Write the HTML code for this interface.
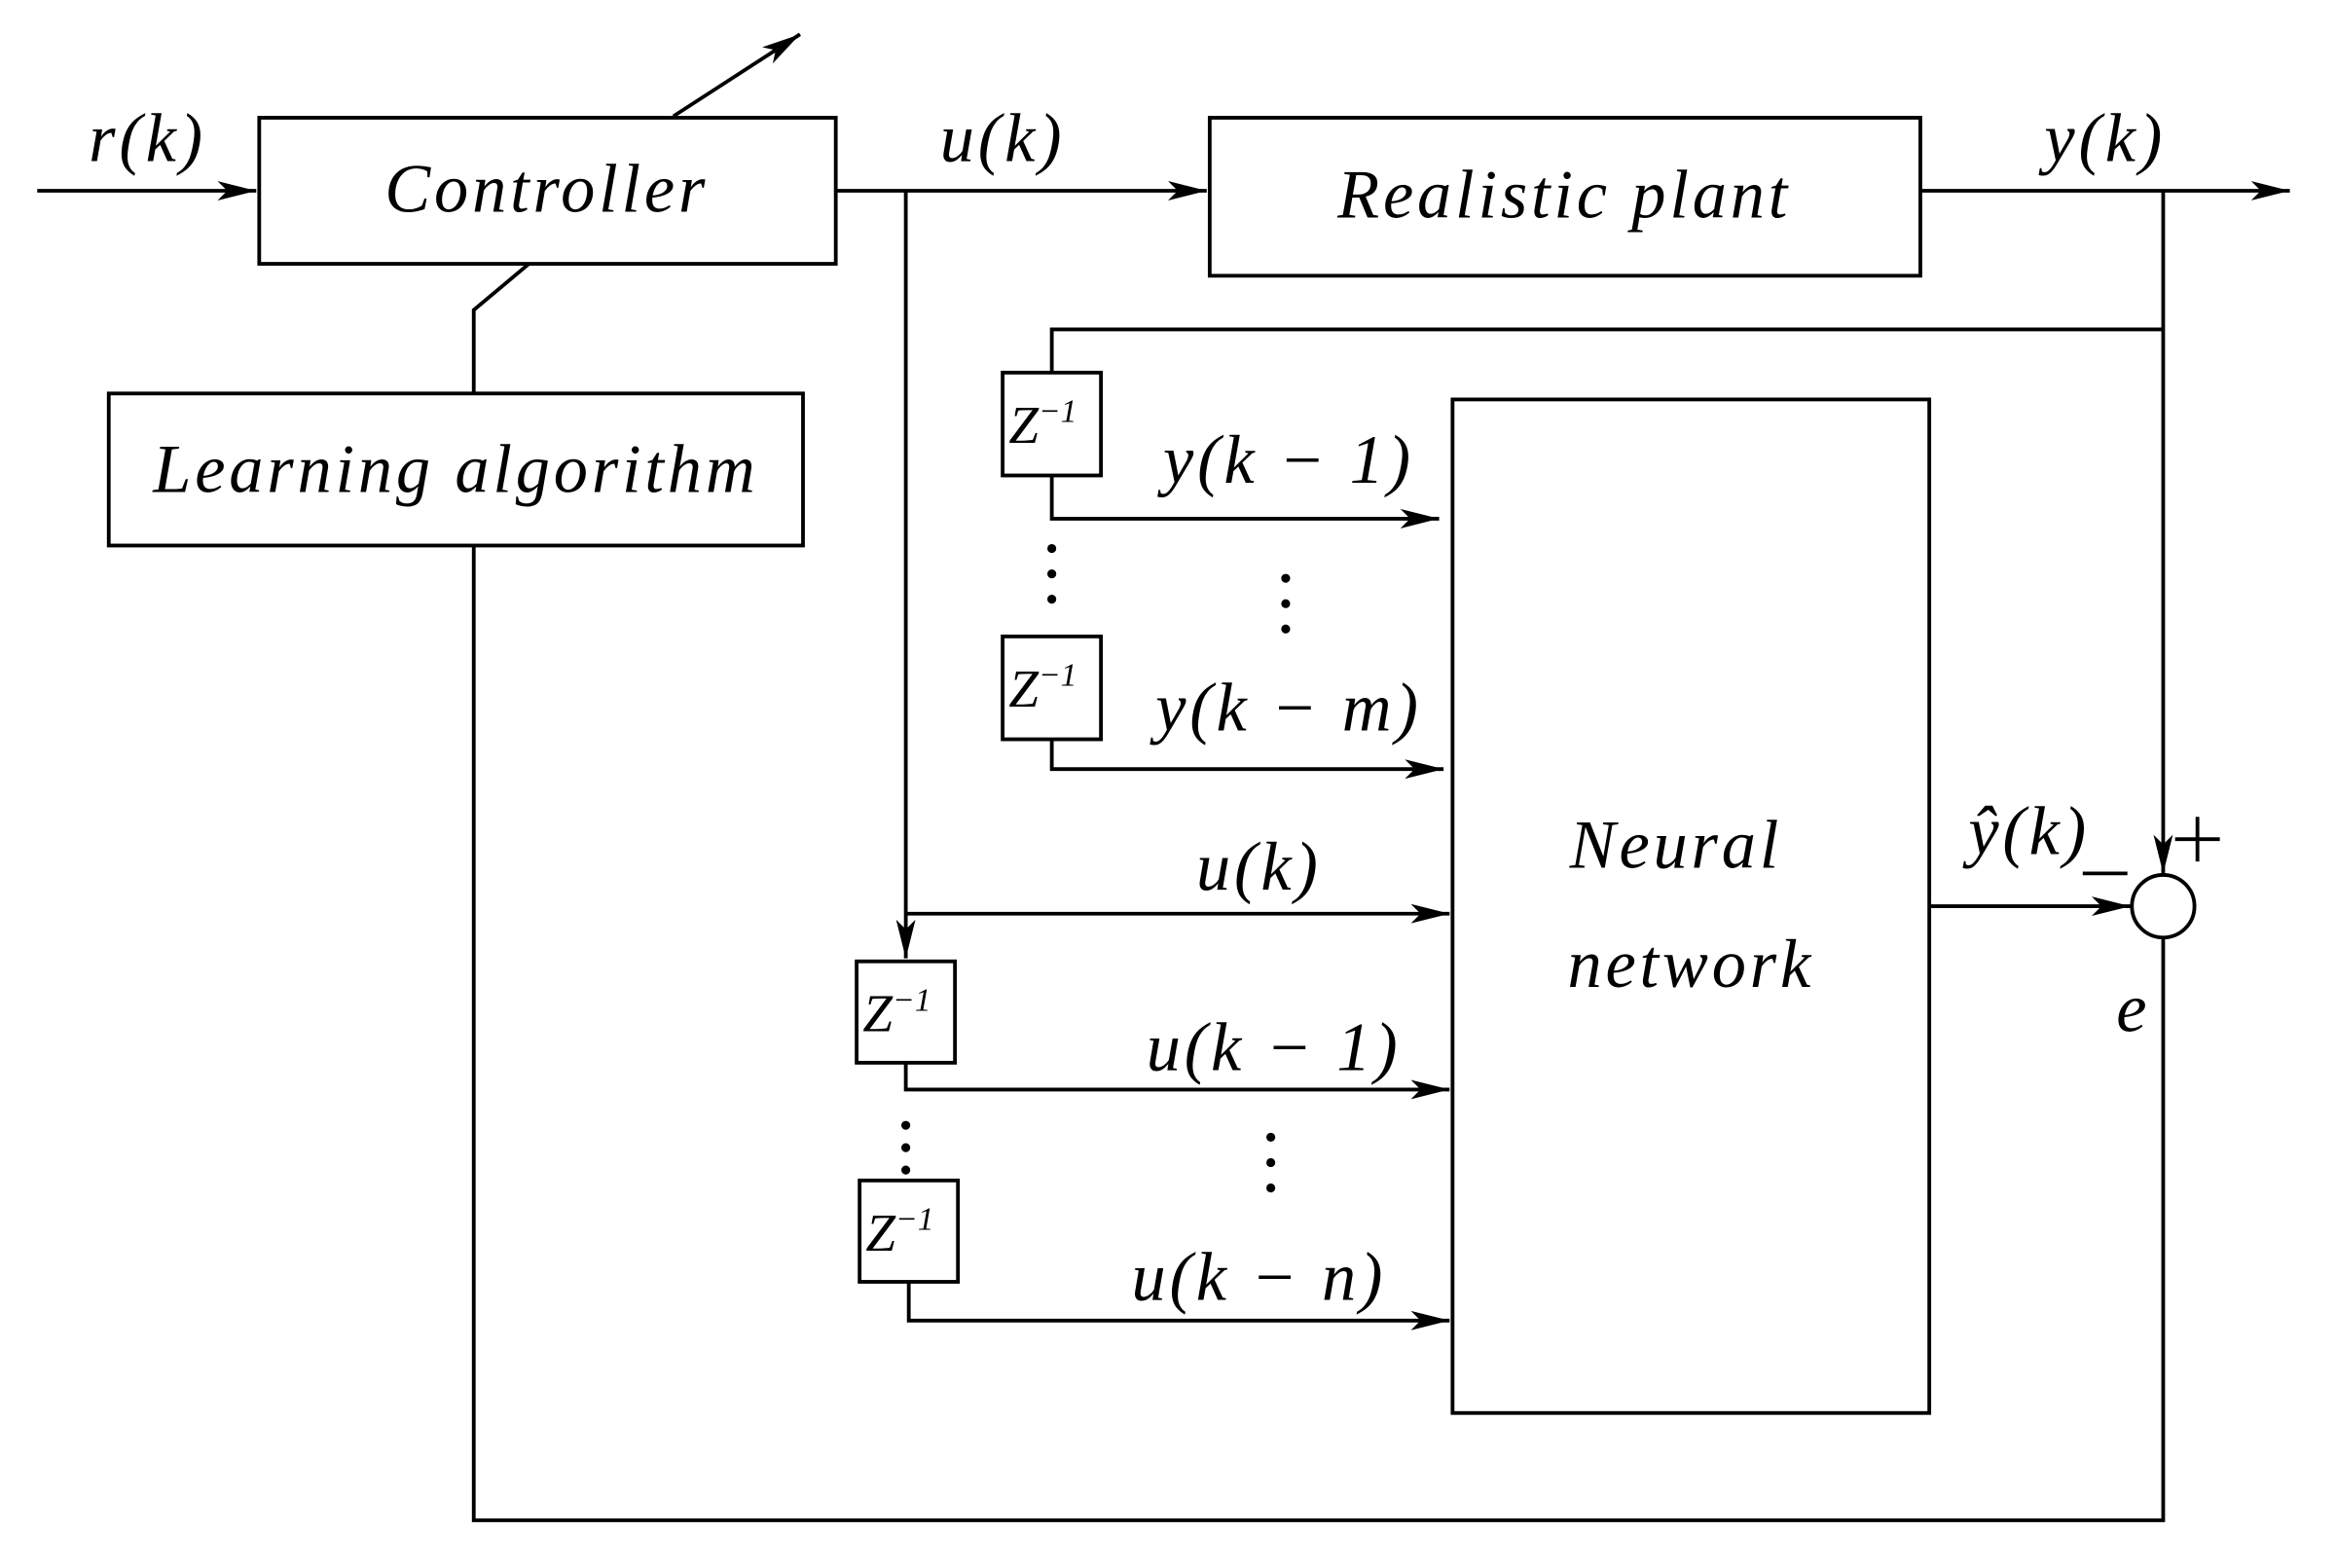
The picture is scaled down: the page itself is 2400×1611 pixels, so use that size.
<!DOCTYPE html>
<html><head><meta charset="utf-8"><style>
html,body{margin:0;padding:0;background:#fff;}
svg{display:block;}
text{font-family:"Liberation Serif",serif;font-style:italic;fill:#000;}
</style></head><body>
<svg width="2400" height="1611" viewBox="0 0 1568 1052" preserveAspectRatio="none" xmlns="http://www.w3.org/2000/svg">
<defs>
<marker id="a" viewBox="0 0 20 10" refX="20" refY="5" markerWidth="26" markerHeight="13" markerUnits="userSpaceOnUse" orient="auto">
<path d="M0,0 L20,5 L0,10 L5,5 Z" fill="#000"/>
</marker>
</defs>
<g stroke="#000" stroke-width="2.5" fill="none">
<rect x="174" y="79" width="387" height="98"/>
<rect x="73" y="264" width="466" height="102"/>
<rect x="812" y="79" width="477" height="106"/>
<rect x="975" y="268" width="320" height="680"/>
<rect x="673" y="250" width="66" height="69"/>
<rect x="673" y="427" width="66" height="69"/>
<rect x="575" y="645" width="66" height="68"/>
<rect x="577" y="792" width="66" height="68"/>
<circle cx="1452" cy="608" r="21"/>
<line x1="25" y1="128" x2="172" y2="128" marker-end="url(#a)"/>
<line x1="452" y1="78" x2="537" y2="23" marker-end="url(#a)"/>
<polyline points="355,177 318,208 318,264"/>
<polyline points="318,366 318,1020 1452,1020 1452,630"/>
<line x1="561" y1="128" x2="810" y2="128" marker-end="url(#a)"/>
<line x1="1289" y1="128" x2="1537" y2="128" marker-end="url(#a)"/>
<line x1="1452" y1="128" x2="1452" y2="586" marker-end="url(#a)"/>
<polyline points="1452,221 706,221 706,250"/>
<polyline points="706,319 706,348 966,348" marker-end="url(#a)"/>
<polyline points="706,496 706,516 969,516" marker-end="url(#a)"/>
<line x1="608" y1="128" x2="608" y2="643" marker-end="url(#a)"/>
<line x1="608" y1="613" x2="973" y2="613" marker-end="url(#a)"/>
<polyline points="608,713 608,731 973,731" marker-end="url(#a)"/>
<polyline points="610,860 610,886 973,886" marker-end="url(#a)"/>
<line x1="1295" y1="608" x2="1430" y2="608" marker-end="url(#a)"/>
</g>
<g fill="#000">
<circle cx="706" cy="368" r="3"/><circle cx="706" cy="385" r="3"/><circle cx="706" cy="402" r="3"/>
<circle cx="863" cy="388" r="3"/><circle cx="863" cy="405" r="3"/><circle cx="863" cy="422" r="3"/>
<circle cx="608" cy="755" r="3"/><circle cx="608" cy="770" r="3"/><circle cx="608" cy="785" r="3"/>
<circle cx="853" cy="763" r="3"/><circle cx="853" cy="780" r="3"/><circle cx="853" cy="797" r="3"/>
</g>
<g font-size="46" text-anchor="middle" letter-spacing="2.5">
<text x="367" y="142">Controller</text>
<text x="306" y="330">Learning algorithm</text>
<text x="1050" y="146">Realistic plant</text>
<text x="1125" y="582">Neural</text>
<text x="1135" y="662">network</text>
<text x="99" y="108">r(k)</text>
<text x="673" y="108">u(k)</text>
<text x="1413" y="108">y(k)</text>
<text x="865" y="324">y(k − 1)</text>
<text x="865" y="490">y(k − m)</text>
<text x="845" y="597">u(k)</text>
<text x="855" y="718">u(k − 1)</text>
<text x="845" y="872">u(k − n)</text>
<text x="1362" y="573">ŷ(k)</text>
<text x="1432" y="692">e</text>
</g>
<g font-size="36" text-anchor="middle">
<text x="700" y="297">Z<tspan font-size="22" dy="-14">−1</tspan></text>
<text x="700" y="474">Z<tspan font-size="22" dy="-14">−1</tspan></text>
<text x="602" y="692">Z<tspan font-size="22" dy="-14">−1</tspan></text>
<text x="604" y="839">Z<tspan font-size="22" dy="-14">−1</tspan></text>
</g>
<g stroke="#000" stroke-width="2.5">
<line x1="1398" y1="586" x2="1428" y2="586"/>
<line x1="1460" y1="563" x2="1490" y2="563"/>
<line x1="1475" y1="548" x2="1475" y2="578"/>
</g>
</svg>
</body></html>
